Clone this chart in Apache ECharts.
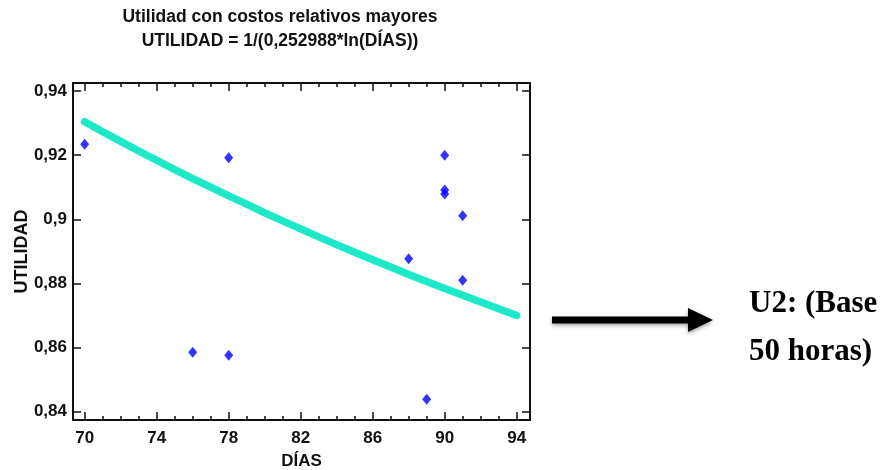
<!DOCTYPE html>
<html>
<head>
<meta charset="utf-8">
<script src="https://cdn.jsdelivr.net/npm/echarts@6/dist/echarts.min.js"></script>
<style>
  html, body { margin: 0; padding: 0; background: #ffffff; }
  #chart { width: 884px; height: 470px; }
</style>
</head>
<body>
<div id="chart"></div>
<script>
// Observed utility per number of days
const obsDays = [70, 76, 78, 78, 88, 89, 90, 90, 90, 91, 91];
const obsUtil = [0.9234, 0.8585, 0.9192, 0.8576, 0.8877, 0.8439, 0.9200, 0.9091, 0.9079, 0.9011, 0.8810];

// Fitted model curve, UTILIDAD = 1/(0,252988*ln(DÍAS)), one value per day
const fitDays = [70, 71, 72, 73, 74, 75, 76, 77, 78, 79, 80, 81, 82, 83, 84, 85, 86, 87, 88, 89, 90, 91, 92, 93, 94];
const fitUtil = [0.9304, 0.9273, 0.9243, 0.9213, 0.9184, 0.9155, 0.9127, 0.9100, 0.9073, 0.9047, 0.9020,
                 0.8995, 0.8970, 0.8945, 0.8921, 0.8897, 0.8874, 0.8851, 0.8828, 0.8806, 0.8784, 0.8763,
                 0.8742, 0.8721, 0.8700];

// Axis ticks
const xMajorTicks = [70, 74, 78, 82, 86, 90, 94];
const xMinorTicks = [70, 71, 72, 73, 74, 75, 76, 77, 78, 79, 80, 81, 82, 83, 84, 85, 86, 87, 88, 89, 90, 91, 92, 93, 94];
const yTicks = [0.84, 0.86, 0.88, 0.90, 0.92, 0.94];
const yTickLabels = ['0,84', '0,86', '0,88', '0,9', '0,92', '0,94'];

const titleLines = ['Utilidad con costos relativos mayores', 'UTILIDAD = 1/(0,252988*ln(DÍAS))'];
const noteLines = ['U2: (Base', '50 horas)'];

const FONT = 'Liberation Sans, Arial, sans-serif';
const SERIF = 'Liberation Serif, Times New Roman, serif';
const INK = '#111111';
const X_MIN = 69.35, X_MAX = 94.74;
const Y_MIN = 0.8374, Y_MAX = 0.9425;

function pairs(xs, ys) { return xs.map((x, i) => [x, ys[i]]); }

function xAxisDef(pos, ticks, len, opts) {
  return Object.assign({
    type: 'value', position: pos, min: X_MIN, max: X_MAX,
    axisLine: { show: false },
    axisTick: { show: true, inside: true, length: len, customValues: ticks, lineStyle: { color: INK, width: 1.5 } },
    axisLabel: { show: false },
    splitLine: { show: false }
  }, opts || {});
}

const chart = echarts.init(document.getElementById('chart'), null, { renderer: 'canvas' });

chart.setOption({
  backgroundColor: '#ffffff',
  animation: false,
  grid: { left: 73, right: 354, top: 83, bottom: 50, containLabel: false, outerBoundsMode: 'none' },
  xAxis: [
    xAxisDef('bottom', xMajorTicks, 8, {
      axisLine: { show: true, onZero: false, lineStyle: { color: INK, width: 2 } },
      axisLabel: {
        show: true, customValues: xMajorTicks, margin: 10,
        color: INK, fontFamily: FONT, fontWeight: 'bold', fontSize: 17
      },
      name: 'DÍAS', nameLocation: 'middle', nameGap: 33, nameMoveOverlap: false,
      nameTextStyle: { color: INK, fontFamily: FONT, fontWeight: 'bold', fontSize: 17 }
    }),
    xAxisDef('bottom', xMinorTicks, 4),
    xAxisDef('top', xMajorTicks, 8, {
      axisLine: { show: true, onZero: false, lineStyle: { color: INK, width: 2 } }
    }),
    xAxisDef('top', xMinorTicks, 4)
  ],
  yAxis: [
    {
      type: 'value', position: 'left', min: Y_MIN, max: Y_MAX,
      axisLine: { show: true, onZero: false, lineStyle: { color: INK, width: 2 } },
      axisTick: { show: true, inside: true, length: 8, customValues: yTicks, lineStyle: { color: INK, width: 1.5 } },
      axisLabel: {
        show: true, customValues: yTicks, margin: 6,
        color: INK, fontFamily: FONT, fontWeight: 'bold', fontSize: 17,
        formatter: function (v) {
          const i = yTicks.findIndex(t => Math.abs(t - v) < 1e-6);
          return i >= 0 ? yTickLabels[i] : '';
        }
      },
      splitLine: { show: false },
      name: 'UTILIDAD', nameLocation: 'middle', nameGap: 42, nameRotate: 90, nameMoveOverlap: false,
      nameTextStyle: { color: INK, fontFamily: FONT, fontWeight: 'bold', fontSize: 18 }
    },
    {
      type: 'value', position: 'right', min: Y_MIN, max: Y_MAX,
      axisLine: { show: true, onZero: false, lineStyle: { color: INK, width: 2 } },
      axisTick: { show: true, inside: true, length: 8, customValues: yTicks, lineStyle: { color: INK, width: 1.5 } },
      axisLabel: { show: false },
      splitLine: { show: false }
    }
  ],
  series: [
    {
      name: 'Modelo', type: 'line', xAxisIndex: 0, yAxisIndex: 0,
      data: pairs(fitDays, fitUtil),
      showSymbol: false, smooth: false,
      lineStyle: { color: '#1de8c8', width: 7.5, cap: 'round' },
      z: 2
    },
    {
      name: 'Observado', type: 'scatter', xAxisIndex: 0, yAxisIndex: 0,
      data: pairs(obsDays, obsUtil),
      symbol: 'diamond', symbolSize: [9, 11],
      itemStyle: { color: '#0000ff' },
      z: 3
    }
  ],
  graphic: [
    {
      type: 'text',
      style: {
        text: titleLines[0], x: 280, y: 17.5, align: 'center', verticalAlign: 'middle',
        fill: INK, font: 'bold 17.5px ' + FONT
      }
    },
    {
      type: 'text',
      style: {
        text: titleLines[1], x: 280, y: 41, align: 'center', verticalAlign: 'middle',
        fill: INK, font: 'bold 17.5px ' + FONT
      }
    },
    {
      type: 'group',
      children: [
        {
          type: 'line',
          shape: { x1: 552, y1: 320, x2: 692, y2: 320 },
          style: { stroke: '#000000', lineWidth: 7, shadowBlur: 4, shadowColor: 'rgba(0,0,0,0.35)', shadowOffsetY: 2 }
        },
        {
          type: 'polygon',
          shape: { points: [[688, 308], [713, 320], [688, 332]] },
          style: { fill: '#000000', shadowBlur: 4, shadowColor: 'rgba(0,0,0,0.35)', shadowOffsetY: 2 }
        }
      ]
    },
    {
      type: 'text',
      style: {
        text: noteLines[0], x: 749, y: 304, verticalAlign: 'middle',
        fill: '#000000', font: 'bold 31px ' + SERIF
      }
    },
    {
      type: 'text',
      style: {
        text: noteLines[1], x: 749, y: 352, verticalAlign: 'middle',
        fill: '#000000', font: 'bold 31px ' + SERIF
      }
    }
  ]
});
</script>
</body>
</html>
